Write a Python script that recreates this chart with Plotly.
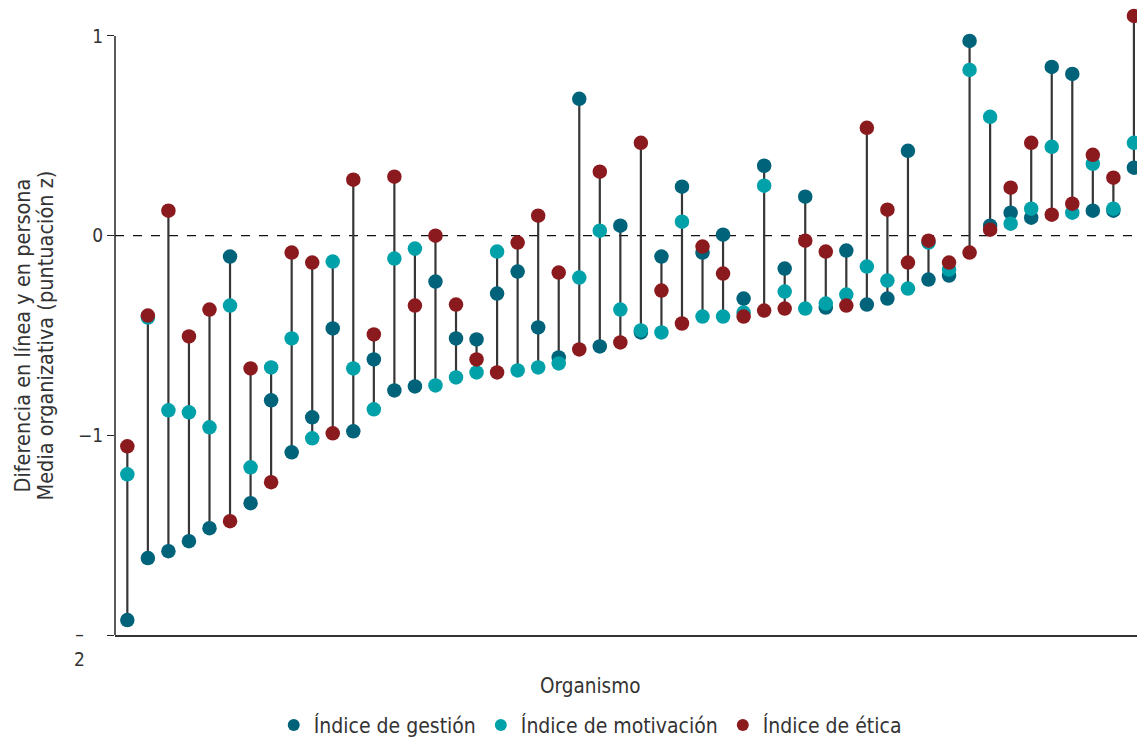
import plotly.graph_objects as go

# Organismos ordenados (sin etiquetas en el eje)
organismos = list(range(1, 51))

# Diferencia en línea vs. en persona, media organizativa (puntuación z)
indice_gestion = [-1.925, -1.615, -1.58, -1.53, -1.465, -0.105, -1.34, -0.825, -1.085, -0.91,
                  -0.465, -0.98, -0.62, -0.775, -0.755, -0.23, -0.515, -0.52, -0.29, -0.18,
                  -0.46, -0.61, 0.685, -0.555, 0.05, -0.485, -0.105, 0.245, -0.085, 0.005,
                  -0.315, 0.35, -0.165, 0.195, -0.36, -0.075, -0.345, -0.315, 0.425, -0.22,
                  -0.2, 0.975, 0.05, 0.115, 0.09, 0.845, 0.81, 0.125, 0.125, 0.34]
indice_motivacion = [-1.195, -0.41, -0.875, -0.885, -0.96, -0.35, -1.16, -0.66, -0.515, -1.015,
                     -0.13, -0.665, -0.87, -0.115, -0.065, -0.75, -0.71, -0.685, -0.08, -0.675,
                     -0.66, -0.64, -0.21, 0.025, -0.37, -0.475, -0.485, 0.07, -0.405, -0.405,
                     -0.385, 0.25, -0.28, -0.365, -0.34, -0.295, -0.155, -0.225, -0.265, -0.035,
                     -0.17, 0.83, 0.595, 0.06, 0.135, 0.445, 0.115, 0.36, 0.135, 0.465]
indice_etica = [-1.055, -0.40, 0.125, -0.505, -0.37, -1.43, -0.665, -1.235, -0.085, -0.135,
                -0.99, 0.28, -0.495, 0.295, -0.35, 0.0, -0.345, -0.62, -0.685, -0.035,
                0.10, -0.185, -0.57, 0.32, -0.535, 0.465, -0.275, -0.44, -0.055, -0.19,
                -0.405, -0.375, -0.365, -0.025, -0.08, -0.35, 0.54, 0.13, -0.135, -0.025,
                -0.135, -0.085, 0.03, 0.24, 0.465, 0.105, 0.16, 0.405, 0.29, 1.10]

series = [
    ("Índice de gestión", indice_gestion, "#00637a"),
    ("Índice de motivación", indice_motivacion, "#00a1a9"),
    ("Índice de ética", indice_etica, "#8b1a1f"),
]

y_ticks = [1, 0, -1, -2]
y_ticktext = ["1", "0", "−1", ""]
y_title = ["Diferencia en línea y en persona", "Media organizativa (puntuación z)"]

FONT = "DejaVu Sans Condensed, Open Sans, sans-serif"
TXT = "#333333"

fig = go.Figure()

# Segmento vertical entre el mínimo y el máximo de cada organismo
seg_x, seg_y = [], []
for k, org in enumerate(organismos):
    vals = [indice_gestion[k], indice_motivacion[k], indice_etica[k]]
    seg_x += [org, org, None]
    seg_y += [min(vals), max(vals), None]
fig.add_trace(go.Scatter(x=seg_x, y=seg_y, mode="lines",
                         line=dict(color="#363636", width=2.2),
                         hoverinfo="skip", showlegend=False))

for name, vals, color in series:
    fig.add_trace(go.Scatter(x=organismos, y=vals, mode="markers", name=name,
                             marker=dict(size=14.5, color=color, line=dict(width=0))))

# Línea de referencia en cero
fig.add_shape(type="line", xref="paper", x0=0, x1=1, yref="y", y0=0, y1=0,
              line=dict(color="#111111", width=1.3, dash="dash"), layer="below")
# Eje vertical de -2 a 1
fig.add_shape(type="line", xref="paper", x0=0, x1=0, yref="y", y0=-2, y1=1,
              line=dict(color="#222222", width=1.5), layer="below")

fig.add_annotation(text="–<br>2", xref="paper", x=-0.0352, xanchor="center",
                   yref="y", y=-2, yanchor="top", yshift=14, showarrow=False,
                   font=dict(family=FONT, size=19, color=TXT))

# Título del eje vertical en dos líneas
for line_text, xpos in zip(y_title, [-0.091, -0.0685]):
    fig.add_annotation(text=line_text, textangle=-90, xref="paper", x=xpos, xanchor="center",
                       yref="y", y=-0.5, yanchor="middle", showarrow=False,
                       font=dict(family=FONT, size=21.5, color=TXT))

fig.add_annotation(text="Organismo", xref="paper", x=0.465, xanchor="center",
                   yref="paper", y=-0.081, yanchor="middle", showarrow=False,
                   font=dict(family=FONT, size=20.5, color=TXT))

fig.update_layout(
    width=1137, height=740,
    margin=dict(l=115, r=0, t=6, b=105, autoexpand=False),
    plot_bgcolor="white", paper_bgcolor="white",
    font=dict(family=FONT, color=TXT),
    legend=dict(orientation="h", x=0.465, xanchor="center", y=-0.1435, yanchor="middle",
                font=dict(family=FONT, size=21, color=TXT), itemsizing="constant",
                traceorder="normal"),
    xaxis=dict(range=[0.4, 50.15], showgrid=False, zeroline=False, showticklabels=False,
               ticks="", showline=True, linecolor="#333333", linewidth=1.5),
    yaxis=dict(range=[-2, 1.15], tickvals=y_ticks, ticktext=y_ticktext, ticks="outside",
               ticklen=7, tickwidth=1.3, tickcolor="#222222", showgrid=False, zeroline=False,
               showline=False, tickfont=dict(family=FONT, size=19, color=TXT)),
)

fig.write_html("out.html")
